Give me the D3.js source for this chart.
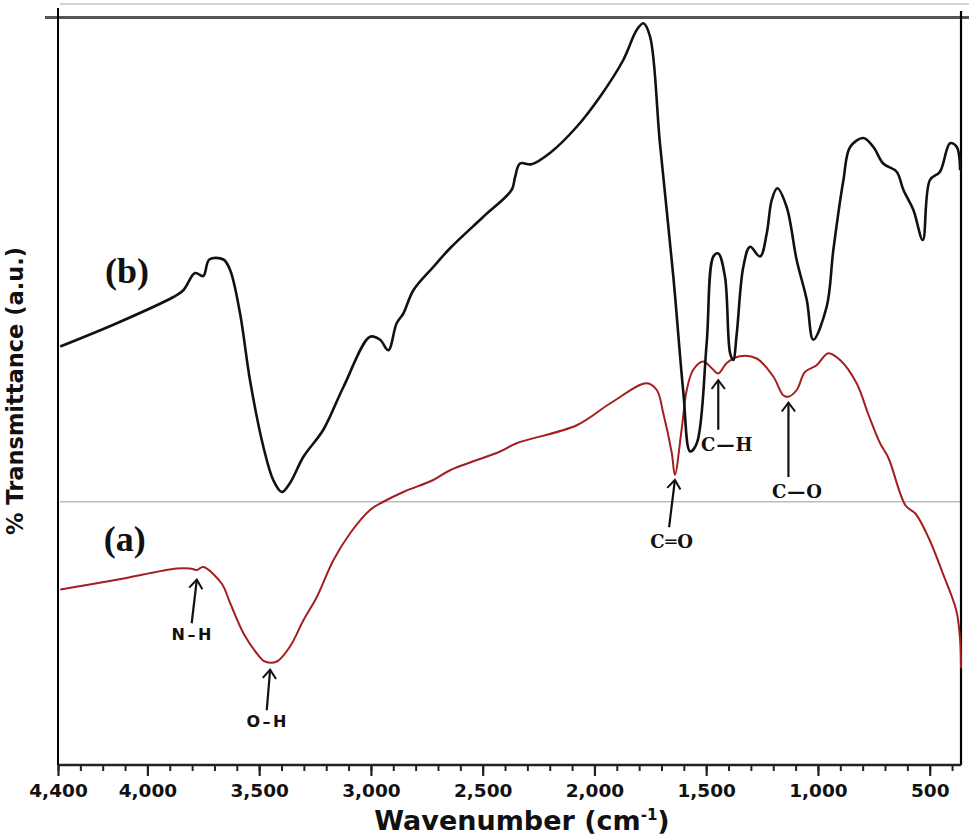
<!DOCTYPE html>
<html><head><meta charset="utf-8">
<script src="https://cdn.jsdelivr.net/npm/d3@7"></script>
<style>
html,body{margin:0;padding:0;background:#fff;}
svg{display:block;}
</style>
</head><body>
<svg id="chart" width="969" height="840"></svg>
<script>
// ---- data (wavenumber cm^-1, % transmittance a.u.) ----
const wavenumberDomain = [4400, 360];
const transmittanceDomain = [0, 100];
const xTickValues = [4400, 4000, 3500, 3000, 2500, 2000, 1500, 1000, 500];

const seriesB_wn = [4390,4137,3884,3839,3787,3750,3723,3660,3630,3586,3541,3481,3437,3399,3362,3302,3213,3123,3004,2959,2922,2885,2855,2810,2721,2646,2497,2370,2355,2333,2281,2199,2079,1975,1871,1811,1781,1751,1707,1647,1602,1572,1542,1498,1468,1446,1416,1393,1379,1363,1334,1304,1259,1229,1207,1182,1140,1095,1050,1021,961,931,886,856,797,752,708,648,618,573,531,499,454,409,379,364];
const seriesB_T = [55.8,58.9,62.4,63.3,65.6,65.2,67.4,67.4,66.0,60.3,51.3,42.4,38.0,36.4,37.6,41.1,44.7,50.4,57.1,56.7,55.3,58.9,60.2,63.3,66.4,68.9,73.1,76.7,78.4,80.2,80.1,81.6,85.1,89.1,94.0,98.0,98.9,97.1,82.9,65.1,49.6,41.8,42.9,56.2,67.8,68.2,65.1,54.9,54.0,57.6,66.4,69.1,67.8,70.9,75.3,76.9,74.4,67.3,62.0,56.7,61.1,68.7,78.0,82.4,83.6,82.4,80.2,79.1,76.7,74.0,70.0,78.0,79.1,82.9,82.4,79.3];

const seriesA_wn = [4390,4137,3869,3809,3779,3750,3668,3630,3571,3511,3474,3421,3362,3302,3242,3168,3093,3004,2944,2855,2721,2646,2422,2348,2079,1930,1766,1721,1692,1654,1640,1610,1587,1558,1513,1475,1446,1408,1349,1274,1200,1155,1132,1095,1058,1006,954,901,827,774,722,684,608,563,502,442,381,364,360];
const seriesA_T = [23.4,24.7,26.2,26.2,26.0,26.4,24.2,21.6,17.6,14.9,13.8,13.8,15.8,19.3,22.4,27.3,30.9,34.0,35.1,36.4,38.0,39.3,41.8,42.9,45.3,48.2,50.9,50.0,46.9,41.6,38.7,44.7,50.0,52.7,53.8,52.9,52.2,53.6,54.5,54.2,51.8,49.3,49.1,50.0,52.4,53.3,54.9,54.0,50.9,46.7,42.9,40.9,34.6,33.5,30.1,25.6,20.6,16.7,12.9];

const separatorT = 35.1;

const annLabels = ["N\u2013H", "O\u2013H", "C\u2550O", "C\u2014H", "C\u2014O"];
const annTipWn  = [3779, 3451, 1640, 1446, 1132];
const annTipT   = [24.7, 12.7, 38.0, 51.3, 48.3];
const annTailWn = [3802, 3466, 1666, 1446, 1132];
const annTailT  = [18.9, 7.3, 31.7, 44.7, 38.4];
const annStyle  = ["sans", "sans", "serif", "serif", "serif"];

const seriesLabels = ["(b)", "(a)"];
const seriesLabelT = [64.3, 28.5];
const seriesLabelWn = [4190, 4195];

// ---- layout ----
const svg = d3.select("#chart");
const mLeft = 58, mRight = 961, mTop = 15, mBottom = 765;

const x = d3.scaleLinear().domain(wavenumberDomain).range([mLeft, mRight]);
const y = d3.scaleLinear().domain(transmittanceDomain).range([mBottom, mTop]);

// top decorative frame lines
svg.append("line").attr("x1", 60).attr("x2", 969).attr("y1", 4).attr("y2", 4)
  .attr("stroke", "#d4d4d4").attr("stroke-width", 2);
svg.append("line").attr("x1", 45).attr("x2", 969).attr("y1", 17.5).attr("y2", 17.5)
  .attr("stroke", "#555").attr("stroke-width", 3);

// separator
svg.append("line").attr("x1", mLeft + 2).attr("x2", mRight).attr("y1", y(separatorT)).attr("y2", y(separatorT))
  .attr("stroke", "#bdbdbd").attr("stroke-width", 1.5);

// left & right axis lines
svg.append("line").attr("x1", mLeft).attr("x2", mLeft).attr("y1", 8).attr("y2", mBottom)
  .attr("stroke", "#000").attr("stroke-width", 2);
svg.append("line").attr("x1", mRight).attr("x2", mRight).attr("y1", 11).attr("y2", mBottom)
  .attr("stroke", "#000").attr("stroke-width", 2.2);

// x axis: minor ticks every 100
const minorTicks = d3.range(4400, 359, -100).filter(v => v >= 400);
const gMinor = svg.append("g").attr("transform", `translate(0,${mBottom})`)
  .call(d3.axisBottom(x).tickValues(minorTicks).tickSize(6).tickFormat(""));
gMinor.select(".domain").remove();
gMinor.selectAll("line").attr("stroke", "#222").attr("stroke-width", 2);

const gx = svg.append("g").attr("transform", `translate(0,${mBottom})`)
  .call(d3.axisBottom(x).tickValues(xTickValues).tickSize(11).tickPadding(8).tickFormat(d3.format(",")));
gx.select(".domain").attr("stroke", "#222").attr("stroke-width", 2.5)
  .attr("d", `M${mLeft},0H${mRight}`);
gx.selectAll(".tick line").attr("stroke", "#222").attr("stroke-width", 2.2);
gx.selectAll(".tick text").attr("font-family", "DejaVu Sans").attr("font-weight", "bold")
  .attr("font-size", 18.5).attr("fill", "#111");

// axis titles
const xt = svg.append("text").attr("x", 522).attr("y", 830).attr("text-anchor", "middle")
  .attr("font-family", "DejaVu Sans").attr("font-weight", "bold").attr("font-size", 27).attr("fill", "#111");
xt.append("tspan").text("Wavenumber (cm");
xt.append("tspan").text("-1").attr("font-size", 15).attr("dy", -10);
xt.append("tspan").text(")").attr("dy", 10);

svg.append("text").attr("transform", "translate(23,391) rotate(-90)").attr("text-anchor", "middle")
  .attr("font-family", "DejaVu Sans").attr("font-weight", "bold").attr("font-size", 22.5).attr("fill", "#111")
  .text("% Transmittance (a.u.)");

// curves
const line = d3.line().x(d => x(d[0])).y(d => y(d[1])).curve(d3.curveCatmullRom.alpha(0.5));
const dataB = seriesB_wn.map((w, i) => [w, seriesB_T[i]]);
const dataA = seriesA_wn.map((w, i) => [w, seriesA_T[i]]);

svg.append("path").datum(dataA).attr("d", line).attr("fill", "none")
  .attr("stroke", "#a31f1f").attr("stroke-width", 2).attr("stroke-linejoin", "round");
svg.append("path").datum(dataB).attr("d", line).attr("fill", "none")
  .attr("stroke", "#111").attr("stroke-width", 2.6).attr("stroke-linejoin", "round");

// series labels
seriesLabels.forEach((s, i) => {
  svg.append("text").attr("x", x(seriesLabelWn[i])).attr("y", y(seriesLabelT[i]))
    .attr("font-family", "Liberation Serif").attr("font-weight", "bold").attr("font-size", 36)
    .attr("fill", "#111").text(s);
});

// annotations
annLabels.forEach((lab, i) => {
  const x1 = x(annTailWn[i]), y1 = y(annTailT[i]);
  const x2 = x(annTipWn[i]), y2 = y(annTipT[i]);
  const g = svg.append("g");
  g.append("line").attr("x1", x1).attr("y1", y1).attr("x2", x2).attr("y2", y2)
    .attr("stroke", "#111").attr("stroke-width", 2.2);
  const ang = Math.atan2(y2 - y1, x2 - x1);
  const L = 11, W = 0.65;
  const p1 = [x2 - L * Math.cos(ang - W), y2 - L * Math.sin(ang - W)];
  const p2 = [x2 - L * Math.cos(ang + W), y2 - L * Math.sin(ang + W)];
  g.append("path").attr("d", `M${p1[0]},${p1[1]}L${x2},${y2}L${p2[0]},${p2[1]}`)
    .attr("fill", "none").attr("stroke", "#111").attr("stroke-width", 2);
  const isSans = annStyle[i] === "sans";
  const lx = i >= 2 ? x1 + (i === 2 ? 3 : 9) : x1 + 1;
  g.append("text").attr("x", lx).attr("y", y1 + (isSans ? 17 : 21))
    .attr("text-anchor", "middle")
    .attr("font-family", isSans ? "DejaVu Sans" : "DejaVu Serif")
    .attr("font-weight", "bold")
    .attr("font-size", isSans ? 16 : 18)
    .attr("letter-spacing", isSans ? 2.5 : 1)
    .attr("fill", "#111").text(lab);
});
</script>
</body></html>
